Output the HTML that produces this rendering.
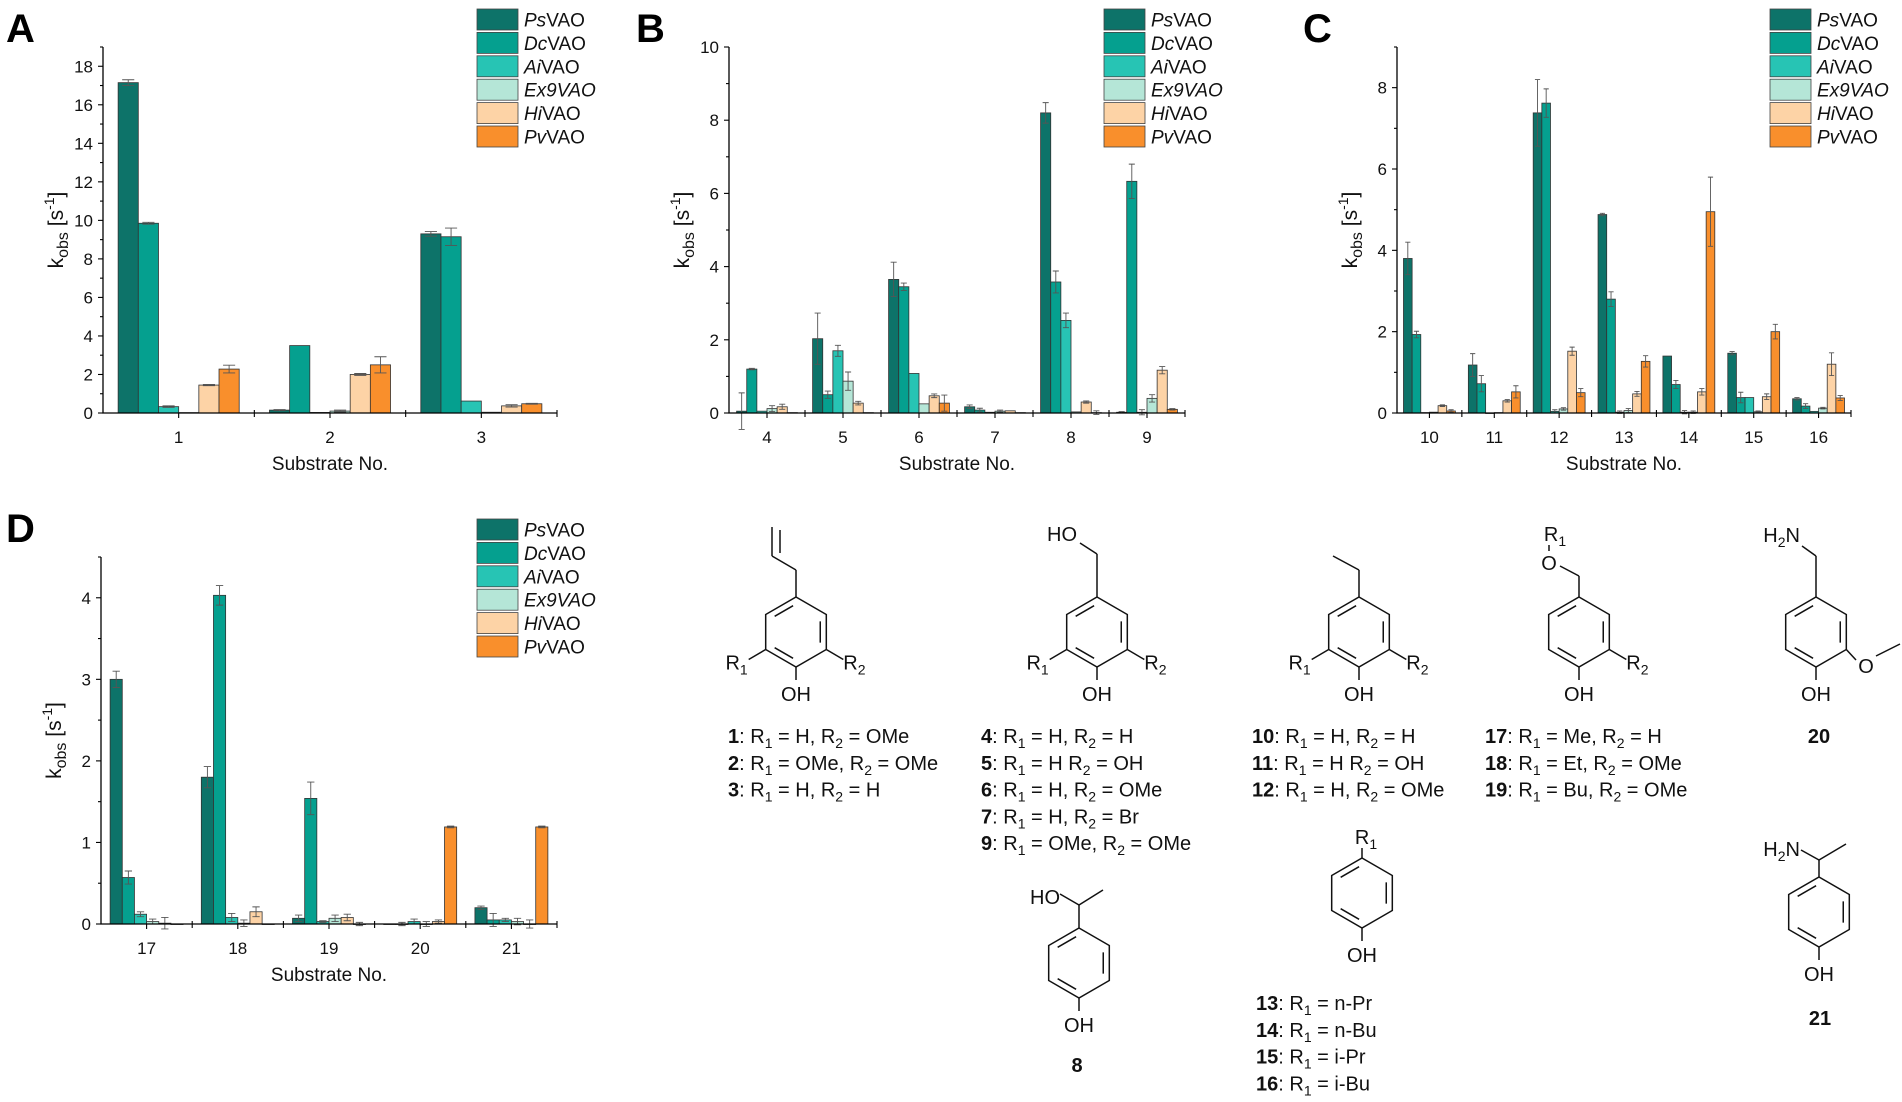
<!DOCTYPE html>
<html><head><meta charset="utf-8">
<style>
html,body{margin:0;padding:0;background:#fff;}
svg{display:block;font-family:"Liberation Sans",Arial,sans-serif;}
.st line,.st polyline,.st polygon{stroke:#111;stroke-width:1.5;fill:none;}
.st text{font-size:20px;fill:#111;}
</style></head>
<body>
<svg id="fig" width="1902" height="1102" viewBox="0 0 1902 1102" xmlns="http://www.w3.org/2000/svg">
<g id="charts"></g>
<g id="structs" class="st"></g>
</svg>
<script>
// ---------- DATA ----------
const seriesNames = ["Ps","Dc","Ai","Ex9","Hi","Pv"];
const seriesColors = ["#0d7369","#05a08f","#27c4b4","#b5e6d7","#fdd3a6","#f98f2c"];

const catsA = ["1","2","3"];
const A_Ps = [17.15,0.15,9.3];   const A_Ps_err = [0.15,0.03,0.12];
const A_Dc = [9.85,3.5,9.15];    const A_Dc_err = [0.05,0.0,0.45];
const A_Ai = [0.33,0.03,0.62];   const A_Ai_err = [0.04,0.0,0.0];
const A_Ex9 = [0.02,0.1,0.04];   const A_Ex9_err = [0.0,0.05,0.0];
const A_Hi = [1.45,2.0,0.37];    const A_Hi_err = [0.03,0.05,0.06];
const A_Pv = [2.28,2.5,0.48];    const A_Pv_err = [0.2,0.42,0.02];
const ticksA = [0,2,4,6,8,10,12,14,16,18];

const catsB = ["4","5","6","7","8","9"];
const B_Ps = [0.05,2.03,3.65,0.17,8.2,0.02];   const B_Ps_err = [0.5,0.7,0.47,0.05,0.28,0.02];
const B_Dc = [1.2,0.5,3.45,0.08,3.58,6.33];    const B_Dc_err = [0.02,0.1,0.1,0.05,0.3,0.47];
const B_Ai = [0.05,1.7,1.08,0.02,2.53,0.02];   const B_Ai_err = [0.0,0.15,0.0,0.0,0.2,0.07];
const B_Ex9 = [0.12,0.87,0.25,0.05,0.03,0.4];  const B_Ex9_err = [0.08,0.25,0.0,0.03,0.0,0.1];
const B_Hi = [0.17,0.27,0.47,0.06,0.3,1.17];   const B_Hi_err = [0.07,0.05,0.05,0.0,0.03,0.1];
const B_Pv = [0.01,0.01,0.27,0.01,0.01,0.1];   const B_Pv_err = [0.0,0.0,0.22,0.0,0.05,0.02];
const ticksB = [0,2,4,6,8,10];

const catsC = ["10","11","12","13","14","15","16"];
const C_Ps = [3.8,1.18,7.38,4.88,1.4,1.47,0.35];  const C_Ps_err = [0.4,0.28,0.82,0.03,0.0,0.04,0.03];
const C_Dc = [1.93,0.72,7.62,2.8,0.7,0.38,0.17];  const C_Dc_err = [0.08,0.2,0.35,0.18,0.1,0.13,0.06];
const C_Ai = [0.01,0.0,0.04,0.02,0.02,0.38,0.04]; const C_Ai_err = [0.0,0.0,0.04,0.03,0.04,0.0,0.0];
const C_Ex9 = [0.02,0.01,0.1,0.06,0.02,0.03,0.12];const C_Ex9_err = [0.0,0.0,0.03,0.05,0.03,0.02,0.02];
const C_Hi = [0.18,0.3,1.52,0.47,0.52,0.4,1.2];   const C_Hi_err = [0.02,0.03,0.1,0.06,0.08,0.07,0.28];
const C_Pv = [0.05,0.52,0.5,1.27,4.95,2.0,0.37];  const C_Pv_err = [0.03,0.15,0.1,0.14,0.85,0.18,0.06];
const ticksC = [0,2,4,6,8];

const catsD = ["17","18","19","20","21"];
const D_Ps = [3.0,1.8,0.07,0.0,0.2];    const D_Ps_err = [0.1,0.13,0.04,0.0,0.02];
const D_Dc = [0.57,4.03,1.54,0.0,0.05]; const D_Dc_err = [0.08,0.12,0.2,0.02,0.08];
const D_Ai = [0.12,0.08,0.03,0.03,0.05];const D_Ai_err = [0.03,0.05,0.01,0.03,0.02];
const D_Ex9 = [0.03,0.01,0.07,0.0,0.03];const D_Ex9_err = [0.03,0.04,0.04,0.03,0.04];
const D_Hi = [0.01,0.15,0.08,0.03,0.0]; const D_Hi_err = [0.07,0.06,0.04,0.02,0.05];
const D_Pv = [0.0,0.0,0.0,1.19,1.19];   const D_Pv_err = [0.0,0.0,0.02,0.01,0.01];
const ticksD = [0,1,2,3,4];

// ---------- DRAW ----------
const NS = "http://www.w3.org/2000/svg";
const root = document.getElementById("charts");
function mk(tag, attrs, parent){
  const e = document.createElementNS(NS, tag);
  for (const k in attrs) e.setAttribute(k, attrs[k]);
  (parent||root).appendChild(e);
  return e;
}

function panel(p){
  const g = mk("g", {});
  
  
  const y = v => p.y0 - (v / p.ymax) * (p.y0 - p.ytop);
  const band = (p.x1 - p.x0) / p.cats.length;
  const cx = i => p.x0 + band * (i + 0.5);
  const bw = band * 0.8 / 6;

  const L = mk("text", {x:p.lx, y:p.ly, "font-size":40, "font-weight":"bold", fill:"#000"}, g);
  L.textContent = p.letter;
  
  

  p.series.forEach((vals, s) => {
    vals.forEach((v, i) => {
      const bx = cx(i) - band*0.4 + s*bw;
      const r = mk("rect", {x:bx, y:y(v), width:bw, height:Math.max(0.5, p.y0 - y(v)), fill:seriesColors[s], stroke:"#333", "stroke-width":0.8}, g);
      
      
      const e = p.errs[s][i];
      if (e > 0) {
        const mx = bx + bw/2, cw = bw*0.3;
        const eb = mk("path", {d:`M${mx},${y(v-e)}V${y(v+e)}M${mx-cw},${y(v+e)}H${mx+cw}M${mx-cw},${y(v-e)}H${mx+cw}`, stroke:"#555", "stroke-width":0.9, fill:"none"}, g);
        
        
      }
    });
  });

  const ax = mk("path", {d:`M${p.x0},${p.ytop}V${p.y0}H${p.x1}`, stroke:"#000", "stroke-width":1.3, fill:"none"}, g);
  
  
  for (let v = 0; v <= p.ymax + 1e-9; v += p.minor) {
    const isMaj = p.ticks.some(t => Math.abs(t - v) < 1e-6);
    mk("line", {x1:p.x0 - (isMaj?5:3), x2:p.x0, y1:y(v), y2:y(v), stroke:"#000", "stroke-width":1.1}, g);
  }
  p.ticks.forEach(t => {
    const tl = mk("text", {x:p.x0 - 10, y:y(t) + 6, "text-anchor":"end", "font-size":17, fill:"#111"}, g);
    tl.textContent = t;
    
    
  });
  p.cats.forEach((c, i) => {
    mk("line", {x1:cx(i), x2:cx(i), y1:p.y0, y2:p.y0 + 5, stroke:"#000", "stroke-width":1.1}, g);
    mk("line", {x1:p.x0 + band*(i+1), x2:p.x0 + band*(i+1), y1:p.y0 - 3, y2:p.y0 + 4, stroke:"#000", "stroke-width":1.1}, g);
    const tl = mk("text", {x:cx(i), y:p.y0 + 30, "text-anchor":"middle", "font-size":17, fill:"#111"}, g);
    tl.textContent = c;
    
    
  });
  const xt = mk("text", {x:(p.x0 + p.x1)/2, y:p.y0 + 57, "text-anchor":"middle", "font-size":19, fill:"#111"}, g);
  xt.textContent = "Substrate No.";
  
  
  const ym = (p.y0 + p.ytop)/2;
  const yt = mk("text", {x:0, y:0, "text-anchor":"middle", "font-size":21, fill:"#111", transform:`translate(${p.x0-40},${ym}) rotate(-90)`}, g);
  yt.innerHTML = 'k<tspan font-size="16" dy="5">obs</tspan><tspan dy="-5"> [s</tspan><tspan font-size="14" dy="-9">-1</tspan><tspan dy="9">]</tspan>';
  
  

  const lg = mk("g", {}, g);
  
  
  seriesNames.forEach((n, s) => {
    const ly = p.legY + s*23.4;
    const r = mk("rect", {x:p.legX, y:ly, width:41, height:21, fill:seriesColors[s], stroke:"#444", "stroke-width":0.8}, lg);
    
    
    const t = mk("text", {x:p.legX + 47, y:ly + 17.5, "font-size":19, fill:"#111"}, lg);
    t.innerHTML = n === "Ex9" ? '<tspan font-style="italic">Ex9VAO</tspan>' : `<tspan font-style="italic">${n}</tspan>VAO`;
    
    
  });
}

panel({letter:"A", lx:6, ly:42, cats:catsA, x0:103, x1:557, y0:413, ytop:47, ymax:19, ticks:ticksA, minor:1,
  series:[A_Ps,A_Dc,A_Ai,A_Ex9,A_Hi,A_Pv], errs:[A_Ps_err,A_Dc_err,A_Ai_err,A_Ex9_err,A_Hi_err,A_Pv_err], legX:477, legY:9});
panel({letter:"B", lx:636, ly:42, cats:catsB, x0:729, x1:1185, y0:413, ytop:47, ymax:10, ticks:ticksB, minor:1,
  series:[B_Ps,B_Dc,B_Ai,B_Ex9,B_Hi,B_Pv], errs:[B_Ps_err,B_Dc_err,B_Ai_err,B_Ex9_err,B_Hi_err,B_Pv_err], legX:1104, legY:9});
panel({letter:"C", lx:1303, ly:42, cats:catsC, x0:1397, x1:1851, y0:413, ytop:47, ymax:9, ticks:ticksC, minor:1,
  series:[C_Ps,C_Dc,C_Ai,C_Ex9,C_Hi,C_Pv], errs:[C_Ps_err,C_Dc_err,C_Ai_err,C_Ex9_err,C_Hi_err,C_Pv_err], legX:1770, legY:9});
panel({letter:"D", lx:6, ly:542, cats:catsD, x0:101, x1:557, y0:924, ytop:557, ymax:4.5, ticks:ticksD, minor:0.5,
  series:[D_Ps,D_Dc,D_Ai,D_Ex9,D_Hi,D_Pv], errs:[D_Ps_err,D_Dc_err,D_Ai_err,D_Ex9_err,D_Hi_err,D_Pv_err], legX:477, legY:519});

// ---------- STRUCTURES ----------
const S = document.getElementById("structs");
function ln(x1,y1,x2,y2){ mk("line",{x1,y1,x2,y2},S); }
function txt(x,y,html,anchor,bold){
  const t = mk("text",{x,y,"text-anchor":anchor||"start","font-weight":bold?"bold":"normal"},S);
  t.innerHTML = html;
  
  
  return t;
}
function ring(cx,cy,r){
  const pts=[];
  for(let k=0;k<6;k++){const a=-Math.PI/2+k*Math.PI/3;pts.push([cx+r*Math.cos(a),cy+r*Math.sin(a)]);}
  mk("polygon",{points:pts.map(p=>p.join(",")).join(" ")},S);
  [[1,2],[3,4],[5,0]].forEach(([a,b])=>{
    const ri=r*0.8;
    const aa=-Math.PI/2+a*Math.PI/3, bb=-Math.PI/2+b*Math.PI/3;
    const p1=[cx+ri*Math.cos(aa),cy+ri*Math.sin(aa)], p2=[cx+ri*Math.cos(bb),cy+ri*Math.sin(bb)];
    const sx=(p2[0]-p1[0])*0.12, sy=(p2[1]-p1[1])*0.12;
    ln(p1[0]+sx,p1[1]+sy,p2[0]-sx,p2[1]-sy);
  });
  return pts;
}
const H2N = 'H<tspan font-size="14" dy="5">2</tspan><tspan dy="-5">N</tspan>';
const R1 = 'R<tspan font-size="14" dy="5">1</tspan>';
const R2 = 'R<tspan font-size="14" dy="5">2</tspan>';

function phenol(cx,cy,r,left,right){
  const p = ring(cx,cy,r);
  ln(p[3][0],p[3][1],p[3][0],p[3][1]+13);
  txt(p[3][0],p[3][1]+34,"OH","middle");
  if(left){ ln(p[4][0],p[4][1],p[4][0]-17,p[4][1]+10); txt(p[4][0]-18,p[4][1]+20,R1,"end"); }
  if(right){ ln(p[2][0],p[2][1],p[2][0]+17,p[2][1]+10); txt(p[2][0]+17,p[2][1]+20,R2,"start"); }
  return p;
}
function list(x,y,lines){
  lines.forEach((l,i)=>txt(x,y+i*26.8,`<tspan font-weight="bold">${l[0]}</tspan>: ${l[1]}`));
}
const eqR1 = v => `R<tspan font-size="14" dy="5">1</tspan><tspan dy="-5"> = ${v}</tspan>`;
const eqR2 = v => `R<tspan font-size="14" dy="5">2</tspan><tspan dy="-5"> = ${v}</tspan>`;

const RR = 35;
const CY = 632;
phenol(796,CY,RR,true,true);
ln(796,597,796,570); ln(796,570,772,556); ln(772,556,772,527); ln(780,553,780,530);
list(728,743,[["1",eqR1("H")+", "+eqR2("OMe")],["2",eqR1("OMe")+", "+eqR2("OMe")],["3",eqR1("H")+", "+eqR2("H")]]);
phenol(1097,CY,RR,true,true);
ln(1097,597,1097,554); ln(1097,554,1080,543); txt(1077,541,"HO","end");
list(981,743,[["4",eqR1("H")+", "+eqR2("H")],["5",eqR1("H")+" "+eqR2("OH")],["6",eqR1("H")+", "+eqR2("OMe")],["7",eqR1("H")+", "+eqR2("Br")],["9",eqR1("OMe")+", "+eqR2("OMe")]]);
phenol(1359,CY,RR,true,true);
ln(1359,597,1359,570); ln(1359,570,1333,556);
list(1252,743,[["10",eqR1("H")+", "+eqR2("H")],["11",eqR1("H")+" "+eqR2("OH")],["12",eqR1("H")+", "+eqR2("OMe")]]);
phenol(1579,CY,RR,false,true);
ln(1579,597,1579,576); ln(1579,576,1560,566); txt(1549,570,"O","middle"); ln(1549,551,1549,545); txt(1555,541,R1,"middle");
list(1485,743,[["17",eqR1("Me")+", "+eqR2("H")],["18",eqR1("Et")+", "+eqR2("OMe")],["19",eqR1("Bu")+", "+eqR2("OMe")]]);
let p = phenol(1816,CY,RR,false,false);
ln(1816,597,1816,556); ln(1816,556,1802,546); txt(1800,542,H2N,"end");
ln(p[2][0],p[2][1],1856,660); txt(1866,673,"O","middle"); ln(1876,656,1900,644);
txt(1819,743,"20","middle",true);
phenol(1079,963,RR,false,false);
ln(1079,928,1079,905); ln(1079,905,1060,894); ln(1079,905,1103,890); txt(1060,904,"HO","end");
txt(1077,1072,"8","middle",true);
phenol(1362,893,RR,false,false);
ln(1362,858,1362,848); txt(1366,844,R1,"middle");
list(1256,1010,[["13",eqR1("n-Pr")],["14",eqR1("n-Bu")],["15",eqR1("i-Pr")],["16",eqR1("i-Bu")]]);
phenol(1819,912,RR,false,false);
ln(1819,877,1819,860); ln(1819,860,1801,850); ln(1819,860,1846,844); txt(1800,856,H2N,"end");
txt(1820,1025,"21","middle",true);
</script>
</body></html>
